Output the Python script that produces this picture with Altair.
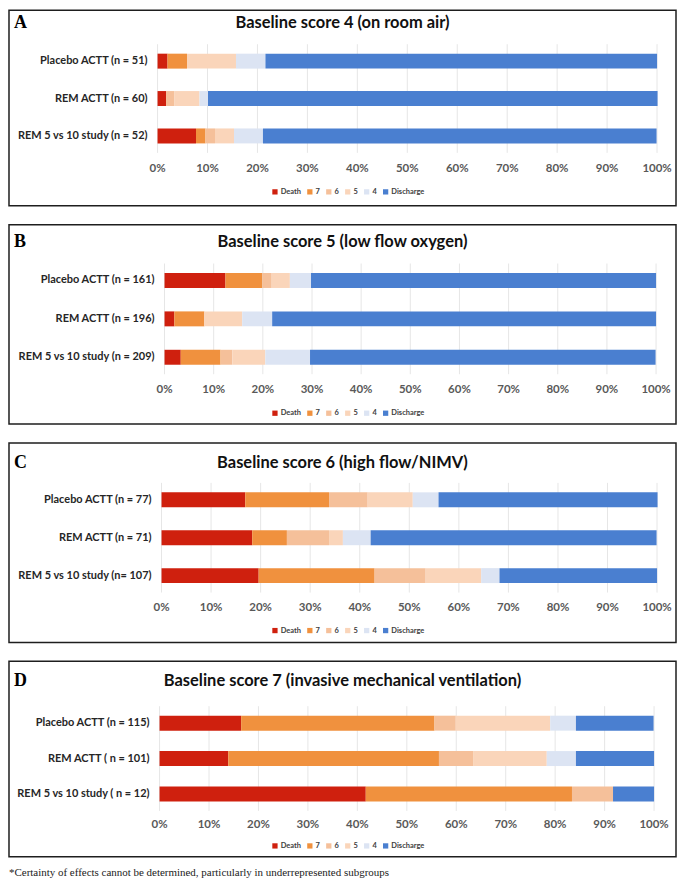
import altair as alt
import pandas as pd

# ---------------- data ----------------
CATEGORIES = ["Death", "7", "6", "5", "4", "Discharge"]
CAT_COLORS = ["#CF200E", "#F0913E", "#F5C09A", "#FAD5BA", "#DCE4F3", "#4A7FD0"]
TICK_VALUES = [0, 10, 20, 30, 40, 50, 60, 70, 80, 90, 100]
TICK_LABELS = ["0%", "10%", "20%", "30%", "40%", "50%", "60%", "70%", "80%", "90%", "100%"]

# percentages per category: Death, 7, 6, 5, 4, Discharge
A_TITLE = "Baseline score 4 (on room air)"
A_GROUPS = ["Placebo ACTT (n = 51)", "REM ACTT (n = 60)", "REM 5 vs 10 study (n = 52)"]
A_PLACEBO = [2.0, 3.9, 0.0, 9.8, 5.9, 78.4]
A_REM = [1.7, 0.0, 1.7, 5.0, 1.7, 90.0]
A_REM5 = [7.7, 1.9, 1.9, 3.8, 5.8, 78.8]

B_TITLE = "Baseline score 5 (low flow oxygen)"
B_GROUPS = ["Placebo ACTT (n = 161)", "REM ACTT (n = 196)", "REM 5 vs 10 study (n = 209)"]
B_PLACEBO = [12.4, 7.5, 1.9, 3.7, 4.3, 70.2]
B_REM = [2.0, 6.1, 0.0, 7.7, 6.1, 78.1]
B_REM5 = [3.3, 8.1, 2.4, 6.7, 9.1, 70.3]

C_TITLE = "Baseline score 6 (high flow/NIMV)"
C_GROUPS = ["Placebo ACTT (n = 77)", "REM ACTT (n = 71)", "REM 5 vs 10 study (n= 107)"]
C_PLACEBO = [16.9, 16.9, 7.8, 9.1, 5.2, 44.2]
C_REM = [18.3, 7.0, 8.5, 2.8, 5.6, 57.7]
C_REM5 = [19.6, 23.4, 10.3, 11.2, 3.7, 31.8]

D_TITLE = "Baseline score 7 (invasive mechanical ventilation)"
D_GROUPS = ["Placebo ACTT (n = 115)", "REM ACTT ( n = 101)", "REM 5 vs 10 study ( n = 12)"]
D_PLACEBO = [16.5, 39.1, 4.3, 19.1, 5.2, 15.7]
D_REM = [13.9, 42.6, 6.9, 14.9, 5.9, 15.8]
D_REM5 = [41.7, 41.7, 8.3, 0.0, 0.0, 8.3]

FOOTNOTE = "*Certainty of effects cannot be determined, particularly in underrepresented subgroups"

# ---------------- layout (styles only) ----------------
W = 669
LAYOUT = {
    "A": dict(h=196, x0=149, x1=650, title_y=13, rows=[51, 126], ticks_y=159, legend_y=183),
    "B": dict(h=200, x0=156, x1=649, title_y=17, rows=[56, 133], ticks_y=166, legend_y=190),
    "C": dict(h=200, x0=153, x1=650, title_y=20, rows=[57, 133], ticks_y=165, legend_y=189),
    "D": dict(h=196, x0=151, x1=647, title_y=20, rows=[62, 133], ticks_y=164, legend_y=186),
}
FONT = "Lato"


def make_panel(letter, title, groups, series, lay, footnote=None):
    recs = []
    for g, vals in zip(groups, series):
        start = 0.0
        for c, v in zip(CATEGORIES, vals):
            if v > 0:
                recs.append({"group": g, "cat": c, "start": start, "end": start + v})
            start += v
    df = pd.DataFrame(recs)

    xs = alt.Scale(domain=[0, 100], range=[lay["x0"], lay["x1"]], nice=False, zero=False)
    ys = alt.Scale(type="point", domain=groups, range=lay["rows"], padding=0)
    cs = alt.Scale(domain=CATEGORIES, range=CAT_COLORS)

    grid_df = pd.DataFrame({"v": TICK_VALUES, "lab": TICK_LABELS})
    grid = alt.Chart(grid_df).mark_rule(color="#E6E6E6", strokeWidth=1).encode(
        x=alt.X("v:Q", scale=xs, axis=None),
        y=alt.value(lay["rows"][0] - 17),
        y2=alt.value(lay["rows"][1] + 17),
    )
    ticks = alt.Chart(grid_df).mark_text(
        font=FONT, fontWeight="bold", fontSize=11.5, color="#595959", baseline="middle"
    ).encode(
        x=alt.X("v:Q", scale=xs, axis=None),
        y=alt.value(lay["ticks_y"]),
        text="lab:N",
    )
    bars = alt.Chart(df).mark_bar(size=15).encode(
        x=alt.X("start:Q", scale=xs, axis=None),
        x2="end:Q",
        y=alt.Y("group:N", scale=ys, axis=None),
        color=alt.Color(
            "cat:N",
            scale=cs,
            sort=CATEGORIES,
            legend=alt.Legend(
                title=None,
                orient="none",
                legendX=263,
                legendY=lay["legend_y"] - 5,
                direction="horizontal",
                symbolType="square",
                symbolSize=28,
                symbolStrokeWidth=0,
                labelFont=FONT,
                labelFontSize=7.5,
                labelFontWeight="bold",
                labelColor="#404040",
                columnPadding=5,
                labelOffset=2,
                padding=0,
            ),
        ),
    )
    labels = alt.Chart(pd.DataFrame({"group": groups})).mark_text(
        align="right", baseline="middle", font=FONT, fontWeight="bold", fontSize=11, color="#262626"
    ).encode(
        y=alt.Y("group:N", scale=ys, axis=None),
        x=alt.value(lay["x0"] - 10),
        text="group:N",
    )
    tdf = pd.DataFrame({"t": [title], "l": [letter]})
    ttl = alt.Chart(tdf).mark_text(
        align="center", baseline="middle", font=FONT, fontWeight="bold", fontSize=16.5, color="#111111"
    ).encode(x=alt.value(W / 2), y=alt.value(lay["title_y"]), text="t:N")
    let = alt.Chart(tdf).mark_text(
        align="left", baseline="middle", font="Liberation Serif", fontWeight="bold", fontSize=18, color="#000000"
    ).encode(x=alt.value(5), y=alt.value(lay["title_y"]), text="l:N")

    layers = [grid, ticks, bars, labels, ttl, let]
    if footnote:
        fdf = pd.DataFrame({"f": [footnote]})
        layers.append(
            alt.Chart(fdf).mark_text(
                align="left", baseline="middle", font="Liberation Serif", fontSize=11, color="#222222"
            ).encode(x=alt.value(0), y=alt.value(lay["h"] + 16), text="f:N")
        )
    return alt.layer(*layers).properties(width=W, height=lay["h"])


pA = make_panel("A", A_TITLE, A_GROUPS, [A_PLACEBO, A_REM, A_REM5], LAYOUT["A"])
pB = make_panel("B", B_TITLE, B_GROUPS, [B_PLACEBO, B_REM, B_REM5], LAYOUT["B"])
pC = make_panel("C", C_TITLE, C_GROUPS, [C_PLACEBO, C_REM, C_REM5], LAYOUT["C"])
pD = make_panel("D", D_TITLE, D_GROUPS, [D_PLACEBO, D_REM, D_REM5], LAYOUT["D"], footnote=FOOTNOTE)

chart = (
    alt.vconcat(pA, pB, pC, pD, spacing=17)
    .resolve_scale(color="independent", x="independent", y="independent")
    .properties(padding={"left": 0, "top": 0, "right": 0, "bottom": 0})
    .configure_view(stroke="#1E1E1E", strokeWidth=1.5)
)

chart.save("out.html", embed_options={"renderer": "svg", "actions": False})
